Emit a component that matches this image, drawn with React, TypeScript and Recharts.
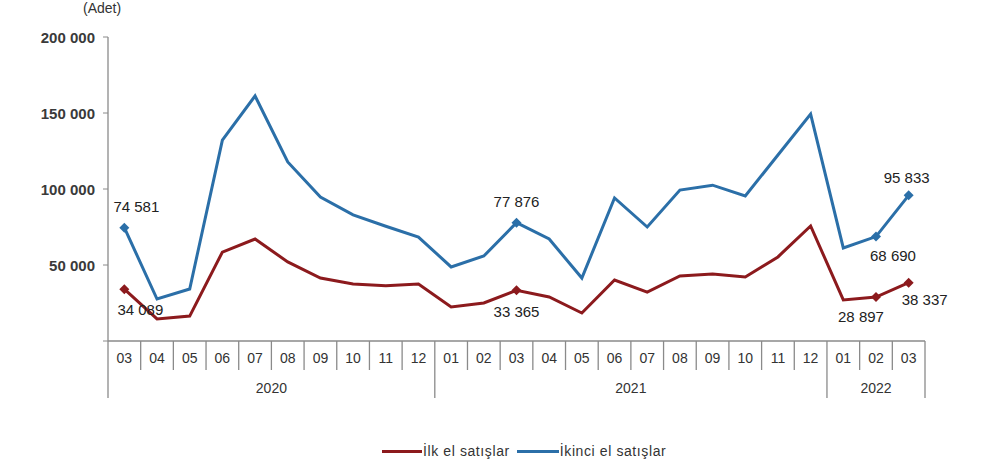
import React from "react";
import { LineChart, Line, XAxis, YAxis, LabelList } from "recharts";

const months = [
  "03", "04", "05", "06", "07", "08", "09", "10", "11", "12",
  "01", "02", "03", "04", "05", "06", "07", "08", "09", "10", "11", "12",
  "01", "02", "03",
];
const years = [
  "2020", "2020", "2020", "2020", "2020", "2020", "2020", "2020", "2020", "2020",
  "2021", "2021", "2021", "2021", "2021", "2021", "2021", "2021", "2021", "2021", "2021", "2021",
  "2022", "2022", "2022",
];
const firstHand = [
  34089, 14500, 16400, 58500, 67100, 52000, 41400, 37500, 36400, 37500,
  22400, 25000, 33365, 29000, 18400, 40100, 32200, 42800, 44100, 42100, 55300, 75700,
  27000, 28897, 38337,
];
const secondHand = [
  74581, 27600, 34200, 132200, 161200, 117800, 94700, 83000, 75500, 68400,
  48700, 55900, 77876, 67100, 41400, 94100, 75000, 99300, 102500, 95400, 122400, 149300,
  61200, 68690, 95833,
];
const yTicks = [0, 50000, 100000, 150000, 200000];

const data = months.map((m, i) => ({
  key: i,
  month: m,
  year: years[i],
  first: firstHand[i],
  second: secondHand[i],
}));

const BLUE = "#2b6fa8";
const RED = "#8c1a1d";
const AXIS = "#8a8a8a";
const FONT = "'Liberation Sans', Arial, sans-serif";

const PLOT_W = 817;
const HALF = PLOT_W / months.length / 2;

const fmt = (v: number) => v.toLocaleString("en-US").replace(/,/g, " ");

// which points carry a marker + value label, and where the label sits
const firstLabels: Record<number, [number, number]> = {
  0: [16, 20],
  12: [0, 21],
  23: [-15, 19],
  24: [16, 17],
};
const secondLabels: Record<number, [number, number]> = {
  0: [12, -21],
  12: [0, -21],
  23: [17, 19],
  24: [-2, -18],
};

const makeDot = (color: string, marks: Record<number, [number, number]>) => (p: any) => {
  if (!(p.index in marks)) return <g key={p.index} />;
  const s = 5;
  return (
    <path
      key={p.index}
      d={`M${p.cx},${p.cy - s}L${p.cx + s},${p.cy}L${p.cx},${p.cy + s}L${p.cx - s},${p.cy}Z`}
      fill={color}
    />
  );
};

const makeLabel = (marks: Record<number, [number, number]>) => (p: any) => {
  const off = marks[p.index];
  if (!off) return null;
  return (
    <text
      key={p.index}
      x={p.x + off[0]}
      y={p.y + off[1]}
      textAnchor="middle"
      dominantBaseline="central"
      fontSize={15}
      fontFamily={FONT}
      fill="#222"
    >
      {fmt(p.value)}
    </text>
  );
};

const MonthTick = (props: any) => {
  const { x, y, payload } = props;
  const i = payload.index;
  const left = x - HALF;
  const right = x + HALF;
  const isYearStart = i === 0 || years[i] !== years[i - 1];
  const last = i === months.length - 1;
  const top = y - 8;
  let yearLabel = null;
  if (isYearStart) {
    let n = 0;
    while (i + n < years.length && years[i + n] === years[i]) n++;
    yearLabel = (
      <text
        x={left + n * HALF}
        y={top + 47}
        textAnchor="middle"
        dominantBaseline="central"
        fontSize={14}
        fontFamily={FONT}
        fill="#333"
      >
        {years[i]}
      </text>
    );
  }
  return (
    <g>
      <line x1={left} y1={top} x2={left} y2={top + (isYearStart ? 57 : 29)} stroke={AXIS} strokeWidth={1.3} />
      {last && <line x1={right} y1={top} x2={right} y2={top + 57} stroke={AXIS} strokeWidth={1.3} />}
      <text
        x={x}
        y={top + 17}
        textAnchor="middle"
        dominantBaseline="central"
        fontSize={14}
        fontFamily={FONT}
        fill="#333"
      >
        {months[i]}
      </text>
      {yearLabel}
    </g>
  );
};

const YTick = (props: any) => {
  const { x, y, payload } = props;
  if (payload.value === 0) return <g />;
  return (
    <text
      x={x - 6}
      y={y}
      textAnchor="end"
      dominantBaseline="central"
      fontSize={15}
      fontWeight="bold"
      fontFamily={FONT}
      fill="#3a3a3a"
    >
      {fmt(payload.value)}
    </text>
  );
};

const LegendRow = () => (
  <div
    style={{
      position: "absolute",
      left: 382,
      top: 443,
      display: "flex",
      alignItems: "center",
      fontFamily: FONT,
      fontSize: 14,
      letterSpacing: 0.6,
      color: "#333",
      whiteSpace: "nowrap",
    }}
  >
    <span style={{ display: "inline-block", width: 40, height: 3, background: RED, marginRight: 1 }} />
    <span style={{ marginRight: 7 }}>İlk el satışlar</span>
    <span style={{ display: "inline-block", width: 42, height: 3, background: BLUE, marginRight: 1 }} />
    <span>İkinci el satışlar</span>
  </div>
);

export default function App() {
  return (
    <div style={{ position: "absolute", left: 0, top: 0, width: 1000, height: 471, background: "#fff" }}>
      <div
        style={{
          position: "absolute",
          left: 83,
          top: 0,
          fontFamily: FONT,
          fontSize: 14,
          color: "#333",
        }}
      >
        (Adet)
      </div>
      <LineChart
        width={1000}
        height={471}
        data={data}
        margin={{ top: 37, right: 75, left: 48, bottom: 70 }}
      >
        <XAxis
          dataKey="key"
          interval={0}
          height={60}
          padding={{ left: HALF, right: HALF }}
          axisLine={{ stroke: AXIS, strokeWidth: 1.3 }}
          tickLine={false}
          tick={<MonthTick />}
        />
        <YAxis
          width={60}
          domain={[0, 200000]}
          ticks={yTicks}
          interval={0}
          axisLine={{ stroke: AXIS, strokeWidth: 1.3 }}
          tickLine={{ stroke: AXIS }}
          tickSize={5}
          tick={<YTick />}
        />
        <Line
          dataKey="first"
          stroke={RED}
          strokeWidth={3}
          isAnimationActive={false}
          dot={makeDot(RED, firstLabels)}
          activeDot={false}
        >
          <LabelList dataKey="first" content={makeLabel(firstLabels)} />
        </Line>
        <Line
          dataKey="second"
          stroke={BLUE}
          strokeWidth={3}
          isAnimationActive={false}
          dot={makeDot(BLUE, secondLabels)}
          activeDot={false}
        >
          <LabelList dataKey="second" content={makeLabel(secondLabels)} />
        </Line>
      </LineChart>
      <LegendRow />
    </div>
  );
}
